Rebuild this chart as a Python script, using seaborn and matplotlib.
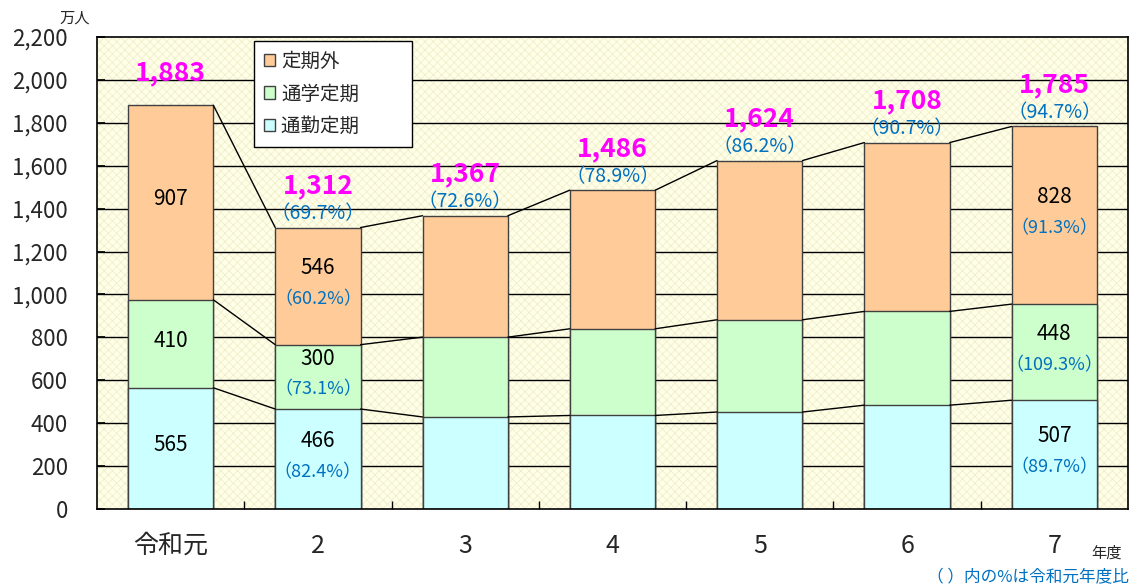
import numpy as np
import pandas as pd
import matplotlib
matplotlib.use('Agg')
import matplotlib.pyplot as plt
from matplotlib.patches import Rectangle, Patch
import seaborn as sns

# 年度ごとの輸送人員（万人）
nendo = ['令和元', '2', '3', '4', '5', '6', '7']
tsukin = [565, 466, 429, 436, 452, 484, 507]     # 通勤定期
tsugaku = [410, 300, 372, 404, 430, 437, 448]    # 通学定期
teikigai = [907, 546, 566, 646, 742, 787, 828]   # 定期外
goukei = [1883, 1312, 1367, 1486, 1624, 1708, 1785]
goukei_pct = [None, '69.7', '72.6', '78.9', '86.2', '90.7', '94.7']

# 内訳ラベル（年度index, 系列, 値, 比率）
naiyaku = [
    (0, 'teikigai', 907, None), (0, 'tsugaku', 410, None), (0, 'tsukin', 565, None),
    (1, 'teikigai', 546, '60.2'), (1, 'tsugaku', 300, '73.1'), (1, 'tsukin', 466, '82.4'),
    (6, 'teikigai', 828, '91.3'), (6, 'tsugaku', 448, '109.3'), (6, 'tsukin', 507, '89.7'),
]

sns.set_theme(style='white')
plt.rcParams['font.family'] = ['Noto Sans CJK JP', 'DejaVu Sans']

c_gai = '#FFCC99'
c_gaku = '#CCFFCC'
c_kin = '#CCFFFF'
blue = '#0070C0'
mag = '#FF00FF'

df = pd.DataFrame({'nendo': nendo, 'tsukin': tsukin, 'tsugaku': tsugaku,
                   'teikigai': teikigai})
df['lv1'] = df.tsukin
df['lv2'] = df.tsukin + df.tsugaku
df['lv3'] = df.lv2 + df.teikigai

fig = plt.figure(figsize=(11.37, 5.88), dpi=100)
ax = fig.add_axes([97 / 1137, 1 - 509 / 588, 1031 / 1137, 472 / 588])

# 背景（薄い黄色の網目）
ax.set_facecolor('#FFFFE8')
plt.rcParams['hatch.linewidth'] = 0.5
ax.add_patch(Rectangle((-0.5, 0), 7, 2200, facecolor='none', edgecolor='#EEEBC8',
                       hatch='xxxx', linewidth=0, zorder=0))

for y in range(200, 2200, 200):
    ax.axhline(y, color='black', linewidth=1, zorder=0.5)

# 積み上げ棒（累積値を大きい順に重ねる）
w = 0.58
bw = dict(width=w, edgecolor='#404040', linewidth=1, zorder=2, ax=ax)
sns.barplot(data=df, x='nendo', y='lv3', color=c_gai, saturation=1, **bw)
sns.barplot(data=df, x='nendo', y='lv2', color=c_gaku, saturation=1, **bw)
sns.barplot(data=df, x='nendo', y='lv1', color=c_kin, saturation=1, **bw)

# 棒の間をつなぐ線
for col in ['lv1', 'lv2', 'lv3']:
    v = df[col].values
    for i in range(len(v) - 1):
        ax.plot([i + w / 2, i + 1 - w / 2], [v[i], v[i + 1]], color='black',
                linewidth=1, zorder=3)

# 合計ラベル
for i, (t, p) in enumerate(zip(goukei, goukei_pct)):
    top = df.lv3[i]
    if p is None:
        ax.annotate(f'{t:,}', (i, top), xytext=(0, 23), textcoords='offset points',
                    ha='center', va='center', color=mag, fontsize=19, fontweight='bold')
    else:
        ax.annotate(f'（{p}%）', (i, top), xytext=(0, 10), textcoords='offset points',
                    ha='center', va='center', color=blue, fontsize=14)
        ax.annotate(f'{t:,}', (i, top), xytext=(0, 30), textcoords='offset points',
                    ha='center', va='center', color=mag, fontsize=19, fontweight='bold')

# 内訳ラベル
base = {'tsukin': 'lv1', 'tsugaku': 'lv2', 'teikigai': 'lv3'}
low = {'tsukin': None, 'tsugaku': 'lv1', 'teikigai': 'lv2'}
for i, s, v, p in naiyaku:
    hi = df[base[s]][i]
    lo = 0 if low[s] is None else df[low[s]][i]
    mid = (hi + lo) / 2
    if p is None:
        ax.text(i, mid + 15, f'{v}', ha='center', va='center',
                fontsize=15, color='black', zorder=4)
    else:
        ax.text(i, mid + 85, f'{v}', ha='center', va='center',
                fontsize=15, color='black', zorder=4)
        ax.text(i, mid - 60, f'（{p}%）', ha='center', va='center',
                fontsize=13, color=blue, zorder=4)

ax.set_xlim(-0.5, 6.5)
ax.set_ylim(0, 2200)
ax.set_yticks(range(0, 2201, 200))
ax.set_yticklabels([f'{y:,}' for y in range(0, 2201, 200)], fontsize=16)
ax.set_xticks(range(7))
ax.set_xticklabels(nendo, fontsize=18)
ax.set_xlabel('')
ax.set_ylabel('')
ax.tick_params(axis='x', length=0, pad=17)
ax.tick_params(axis='y', direction='in', length=6, left=True, pad=21, color='black')
ax.set_xticks(np.arange(0.5, 6.5, 1), minor=True)
ax.tick_params(axis='x', which='minor', direction='in', length=6, bottom=True,
               color='black')
for sp in ax.spines.values():
    sp.set_color('black')
    sp.set_linewidth(1.2)
    sp.set_visible(True)

handles = [Patch(facecolor=c_gai, edgecolor='#404040', label='定期外'),
           Patch(facecolor=c_gaku, edgecolor='#404040', label='通学定期'),
           Patch(facecolor=c_kin, edgecolor='#404040', label='通勤定期　　 ')]
leg = ax.legend(handles=handles, loc='upper left', bbox_to_anchor=(0.1523, 0.9915),
                borderaxespad=0, fontsize=14, frameon=True, fancybox=False,
                handlelength=0.6, handleheight=0.6, handletextpad=0.3,
                borderpad=0.5, labelspacing=0.6)
leg.get_frame().set_edgecolor('black')
leg.get_frame().set_facecolor('white')
leg.get_frame().set_alpha(1)
leg.set_zorder(5)

fig.text(75 / 1137, 1 - 18 / 588, '万人', ha='center', va='center', fontsize=11)
fig.text(1106 / 1137, 1 - 553 / 588, '年度', ha='center', va='center', fontsize=11)
fig.text(1129 / 1137, 1 - 578 / 588, '（ ）内の%は令和元年度比', ha='right',
         va='center', fontsize=12, color=blue)

fig.savefig('out.png', dpi=100)
